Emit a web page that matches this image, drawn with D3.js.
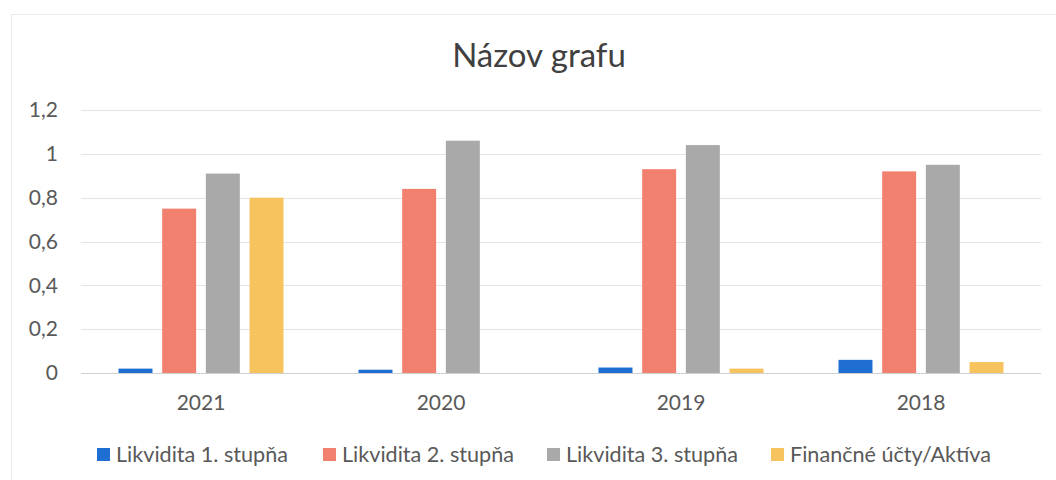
<!DOCTYPE html>
<html>
<head>
<meta charset="utf-8">
<script src="https://cdn.jsdelivr.net/npm/d3@7"></script>
<style>
  body { margin: 0; background: #fff; }
  svg text { font-family: Lato, "Noto Sans", sans-serif; }
</style>
</head>
<body>
<svg id="chart" width="1056" height="480"></svg>
<script>
// data
var years = ["2021", "2020", "2019", "2018"];
var series = ["Likvidita 1. stupňa", "Likvidita 2. stupňa", "Likvidita 3. stupňa", "Finančné účty/Aktíva"];
var liq1 = [0.02, 0.015, 0.025, 0.06];
var liq2 = [0.75, 0.84, 0.93, 0.92];
var liq3 = [0.91, 1.06, 1.04, 0.95];
var fin = [0.80, 0, 0.02, 0.05];
var yTicks = [0, 0.2, 0.4, 0.6, 0.8, 1, 1.2];
var colors = ["#1f6fd2", "#f2806f", "#a9a9a9", "#f6c35e"];

var values = [liq1, liq2, liq3, fin];

var rows = years.map(function(y, i) {
  return { year: y, vals: values.map(function(v) { return v[i]; }) };
});

var svg = d3.select("#chart");

var margin = { left: 81, right: 15, top: 110, bottom: 107 };
var width = 1056 - margin.left - margin.right,
    height = 480 - margin.top - margin.bottom;

var x0 = d3.scaleBand()
    .domain(years)
    .range([margin.left, margin.left + width])
    .paddingInner(0.3125)
    .paddingOuter(0.15625);

var x1 = d3.scaleBand()
    .domain(d3.range(series.length))
    .range([0, x0.bandwidth()])
    .paddingInner(0.222);

var y = d3.scaleLinear()
    .domain([0, 1.2])
    .range([margin.top + height, margin.top]);

// faint scan border (left and top edges of the chart area)
svg.append("rect")
    .attr("x", 11.5).attr("y", 14.5)
    .attr("width", 1100).attr("height", 500)
    .attr("fill", "none")
    .attr("stroke", "#ebebeb");

// title
svg.append("text")
    .attr("x", 539)
    .attr("y", 67)
    .attr("text-anchor", "middle")
    .attr("font-size", 33)
    .attr("fill", "#404040")
    .text("Názov grafu");

// gridlines
svg.append("g")
    .selectAll("line")
    .data(yTicks)
    .join("line")
    .attr("x1", margin.left)
    .attr("x2", margin.left + width)
    .attr("y1", function(d) { return Math.round(y(d)) + 0.5; })
    .attr("y2", function(d) { return Math.round(y(d)) + 0.5; })
    .attr("stroke", function(d) { return d == 0 ? "#d0d0d0" : "#e4e4e4"; })
    .attr("stroke-width", 1);

// y axis labels
var fmt = function(d) { return d3.format("~g")(d).replace(".", ","); };
var yAxis = d3.axisLeft(y).tickValues(yTicks).tickFormat(fmt).tickSize(0).tickPadding(0);
var gy = svg.append("g")
    .attr("transform", "translate(58,0)")
    .call(yAxis);
gy.select(".domain").remove();
gy.selectAll("text")
    .attr("font-size", 21)
    .attr("fill", "#595959")
    .attr("font-family", "Lato, sans-serif");

// bars
var groups = svg.append("g")
    .selectAll("g")
    .data(rows)
    .join("g")
    .attr("transform", function(d) { return "translate(" + x0(d.year) + ",0)"; });

groups.selectAll("rect")
    .data(function(d) { return d.vals; })
    .join("rect")
    .attr("x", function(d, i) { return x1(i); })
    .attr("width", x1.bandwidth())
    .attr("y", function(d) { return y(d); })
    .attr("height", function(d) { return y(0) - y(d); })
    .attr("fill", function(d, i) { return colors[i]; });

// x axis labels
var xAxis = d3.axisBottom(x0).tickSize(0).tickPadding(0);
var gx = svg.append("g")
    .attr("transform", "translate(0," + (y(0) + 22) + ")")
    .call(xAxis);
gx.select(".domain").remove();
gx.selectAll("text")
    .attr("font-size", 21)
    .attr("fill", "#595959")
    .attr("font-family", "Lato, sans-serif");

// legend
var legendX = [97, 323, 547, 771];
var legend = svg.append("g")
    .selectAll("g")
    .data(series)
    .join("g")
    .attr("transform", function(d, i) { return "translate(" + legendX[i] + ",448)"; });

legend.append("rect")
    .attr("width", 13)
    .attr("height", 13)
    .attr("fill", function(d, i) { return colors[i]; });

legend.append("text")
    .attr("x", 19)
    .attr("y", 14)
    .attr("font-size", 21.6)
    .attr("fill", "#595959")
    .text(function(d) { return d; });
</script>
</body>
</html>
